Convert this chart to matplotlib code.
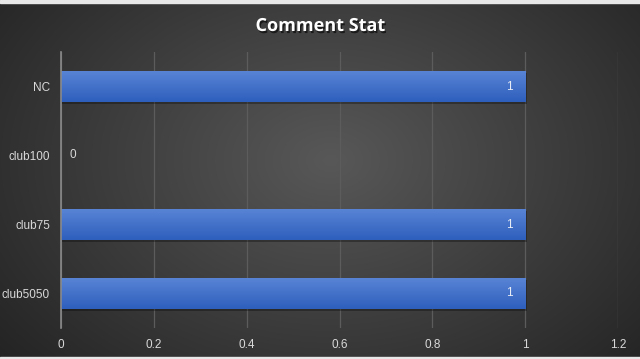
import numpy as np
import matplotlib
matplotlib.use("Agg")
import matplotlib.pyplot as plt
import matplotlib.patheffects as pe
from matplotlib.colors import LinearSegmentedColormap

categories = ["club5050", "club75", "club100", "NC"]
values = [1, 1, 0, 1]
xticks = [0, 0.2, 0.4, 0.6, 0.8, 1, 1.2]
xtick_labels = ["0", "0.2", "0.4", "0.6", "0.8", "1", "1.2"]
title = "Comment Stat"

plt.rcParams['font.family'] = ['Liberation Sans Narrow', 'Liberation Sans', 'DejaVu Sans']

W, H = 640, 359
fig = plt.figure(figsize=(W/100, H/100), dpi=100)

# radial gradient background
bg = fig.add_axes([0, 0, 1, 1], zorder=-10)
yy, xx = np.mgrid[0:H, 0:W]
r = np.sqrt(((xx - 330) / 420.0) ** 2 + ((yy - 160) / 300.0) ** 2)
val = np.clip(0.345 - 0.2 * r, 0.14, 0.345)
img = np.dstack([val, val, val])
bg.imshow(img, extent=[0, W, H, 0], aspect='auto', interpolation='bilinear')
bg.add_patch(plt.Rectangle((0, 0), W, 2.5, color='#e8e8e8'))
bg.add_patch(plt.Rectangle((0, H - 2.5), W, 2.5, color='#e8e8e8'))
bg.set_xlim(0, W); bg.set_ylim(H, 0)
bg.axis('off')

ax = fig.add_axes([61/W, 1 - 328/H, (618 - 61)/W, (328 - 52)/H])
ax.set_facecolor('none')

y = np.arange(len(categories))
bars = ax.barh(y, values, height=0.46, color='#4472c4', linewidth=0, zorder=3,
               path_effects=[pe.SimplePatchShadow(offset=(1, -1.5), shadow_rgbFace='black', alpha=0.3), pe.Normal()])

grad = np.linspace(0, 1, 64).reshape(-1, 1)
cmap = LinearSegmentedColormap.from_list('b', ['#2e5fbd', '#5a85d6'])
for b in bars:
    if b.get_width() <= 0:
        continue
    x0, y0, w, h = b.get_x(), b.get_y(), b.get_width(), b.get_height()
    im = ax.imshow(grad, cmap=cmap, extent=[x0, x0 + w, y0, y0 + h], origin='lower',
                   aspect='auto', zorder=4, interpolation='bilinear')
    im.set_clip_path(b)

ax.set_xlim(0, 1.2)
ax.set_ylim(-0.5, len(categories) - 0.5)
ax.set_xticks(xticks)
ax.set_xticklabels(xtick_labels)
ax.set_yticks(y)
ax.set_yticklabels(categories)
ax.tick_params(axis='both', length=0, colors='#d9d9d9', labelsize=8.5)
ax.tick_params(axis='x', pad=8)
ax.tick_params(axis='y', pad=8)
ax.grid(axis='x', color='#5c5c5c', linewidth=0.9, zorder=0)
ax.set_axisbelow(True)
for s in ['top', 'right', 'bottom']:
    ax.spines[s].set_visible(False)
ax.spines['left'].set_color('#8a8a8a')
ax.spines['left'].set_linewidth(1.2)
ax.spines['left'].set_zorder(5)

for yi, v in zip(y, values):
    if v > 0:
        ax.annotate(str(v), (v, yi), xytext=(-9, 0), textcoords='offset points',
                    ha='right', va='center', color='#e8ecf5', fontsize=8.5, zorder=6)
    else:
        ax.annotate(str(v), (v, yi), xytext=(6, 0), textcoords='offset points',
                    ha='left', va='center', color='#d9d9d9', fontsize=8.5, zorder=6)

fig.text(0.5, 1 - 26/H, title, ha='center', va='center', color='white',
         fontsize=13, fontweight='bold', family=['Open Sans', 'DejaVu Sans'],
         path_effects=[pe.withSimplePatchShadow(offset=(1, -1.5), shadow_rgbFace='black', alpha=0.6)])

fig.savefig('out.png', dpi=100)
